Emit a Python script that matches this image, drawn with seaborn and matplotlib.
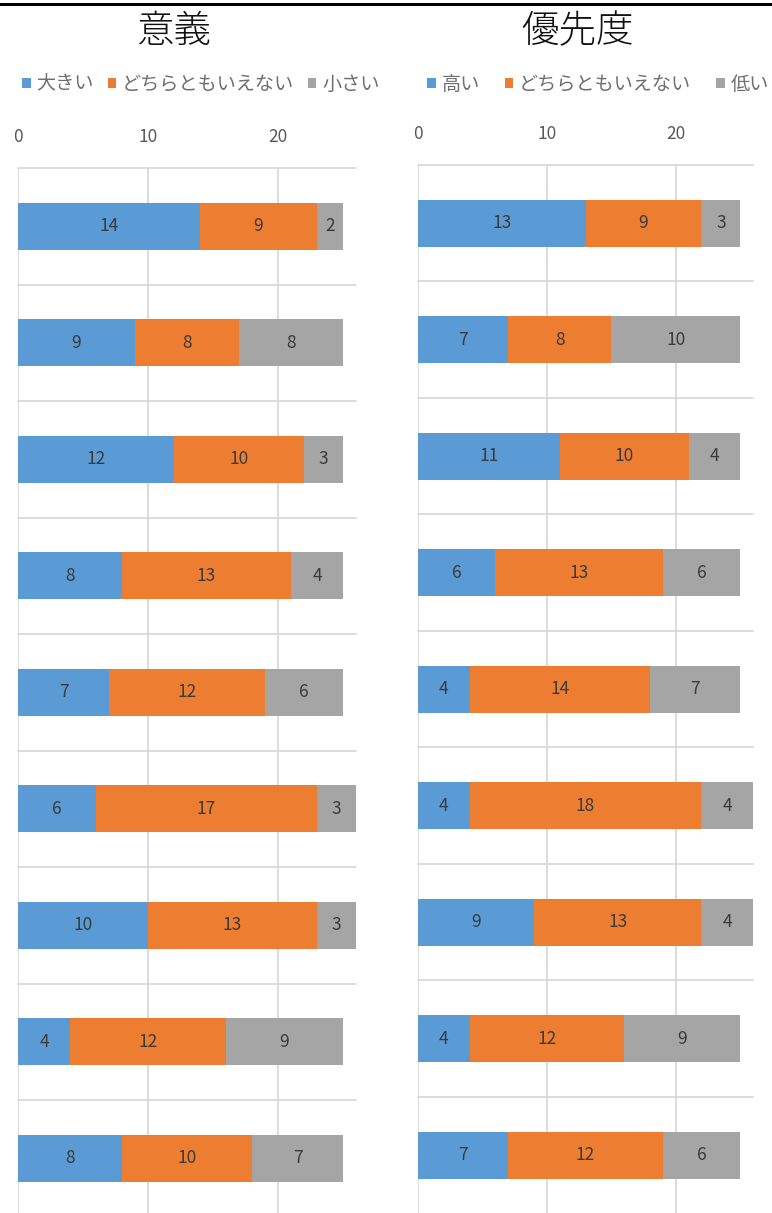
import numpy as np
import pandas as pd
import matplotlib
matplotlib.use("Agg")
import matplotlib.pyplot as plt
from matplotlib.patches import Patch
from matplotlib.lines import Line2D
import seaborn as sns

# ---- data ----
items = ["Q1", "Q2", "Q3", "Q4", "Q5", "Q6", "Q7", "Q8", "Q9"]

meaning_labels = ["大きい", "どちらともいえない", "小さい"]
meaning_large = [14, 9, 12, 8, 7, 6, 10, 4, 8]
meaning_neutral = [9, 8, 10, 13, 12, 17, 13, 12, 10]
meaning_small = [2, 8, 3, 4, 6, 3, 3, 9, 7]

priority_labels = ["高い", "どちらともいえない", "低い"]
priority_high = [13, 7, 11, 6, 4, 4, 9, 4, 7]
priority_neutral = [9, 8, 10, 13, 14, 18, 13, 12, 12]
priority_low = [3, 10, 4, 6, 7, 4, 4, 9, 6]

x_ticks = [0, 10, 20]

colors = ["#5B9BD5", "#ED7D31", "#A5A5A5"]

sns.set_theme(style="white")
plt.rcParams["font.family"] = ["Noto Sans CJK JP", "DejaVu Sans"]

fig = plt.figure(figsize=(7.72, 12.13), dpi=100)
W, H = 772, 1213


def px_axes(x0, x1, top, bottom):
    return fig.add_axes([x0 / W, 1 - bottom / H, (x1 - x0) / W, (bottom - top) / H])


def stacked_panel(ax, series):
    values = np.array(series, dtype=float)
    cums = np.cumsum(values, axis=0)
    # draw totals first, then overlay shorter cumulative bars
    for k in reversed(range(len(series))):
        df = pd.DataFrame({"item": items, "value": cums[k]})
        sns.barplot(data=df, x="value", y="item", order=items, color=colors[k],
                    width=0.4, saturation=1, orient="h", ax=ax, zorder=3,
                    linewidth=0)
    for k in range(len(series)):
        for i, v in enumerate(values[k]):
            ax.text(cums[k][i] - v / 2, i, f"{int(v)}", ha="center", va="center",
                    fontsize=12.5, color="#3A3A3A", zorder=5)
    ax.set_xlim(0, 26)
    ax.set_ylim(8.5, -0.5)
    ax.set_xticks(x_ticks)
    ax.xaxis.tick_top()
    ax.tick_params(axis="x", length=0, pad=16, labelsize=12.5, labelcolor="#595959")
    ax.set_yticks([])
    ax.tick_params(axis="y", which="both", length=0)
    ax.set_xlabel("")
    ax.set_ylabel("")
    ax.grid(False)
    for x in x_ticks:
        ax.axvline(x, color="#D9D9D9", lw=1.3, zorder=1)
    for y in np.arange(-0.5, 9.0, 1.0):
        ax.axhline(y, color="#D9D9D9", lw=1.3, zorder=1, clip_on=False)
    for s in ax.spines.values():
        s.set_visible(False)


ax1 = px_axes(18, 356, 168, 168 + 9 * 116.5)
stacked_panel(ax1, [meaning_large, meaning_neutral, meaning_small])

ax2 = px_axes(418, 753, 165, 165 + 9 * 116.5)
stacked_panel(ax2, [priority_high, priority_neutral, priority_low])

# titles
fig.text(174 / W, 1 - 31 / H, "意義", ha="center", va="center", fontsize=27,
         fontweight="light", color="#111111")
fig.text(577 / W, 1 - 31 / H, "優先度", ha="center", va="center", fontsize=27,
         fontweight="light", color="#111111")

# legends
for labels, x0, spacing in [(meaning_labels, 22, 0.72), (priority_labels, 427, 1.3)]:
    handles = [Patch(facecolor=c, edgecolor="none") for c in colors]
    leg = fig.legend(handles, labels, loc="center left",
                     bbox_to_anchor=(x0 / W, 1 - 84 / H), ncol=3, frameon=False,
                     fontsize=13.8, handlelength=0.45, handleheight=0.45,
                     handletextpad=0.3, columnspacing=spacing, borderaxespad=0,
                     borderpad=0)
    for t in leg.get_texts():
        t.set_color("#6E6E6E")

# top rule
fig.add_artist(Line2D([0, 1], [1 - 4 / H, 1 - 4 / H], color="black", lw=2.2))

fig.savefig("out.png", dpi=100)
